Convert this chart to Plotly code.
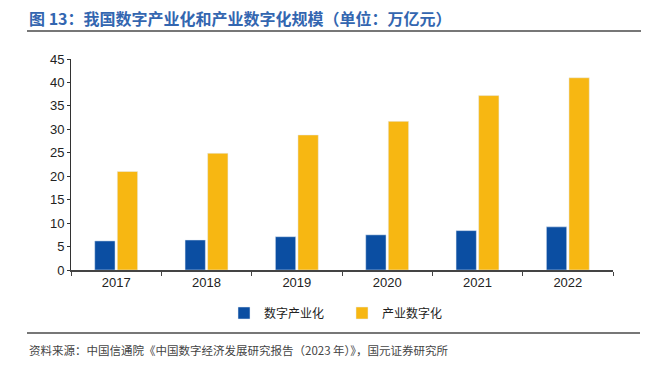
import plotly.graph_objects as go

years = ["2017", "2018", "2019", "2020", "2021", "2022"]
digital_industry = [6.2, 6.4, 7.1, 7.5, 8.4, 9.2]
industry_digital = [21.0, 24.9, 28.8, 31.7, 37.2, 41.0]
series_names = ["数字产业化", "产业数字化"]
y_ticks = [0, 5, 10, 15, 20, 25, 30, 35, 40, 45]

BLUE = "#0B4EA2"
YELLOW = "#F7B712"
CJK = "Noto Sans CJK SC"

fig = go.Figure()
fig.add_bar(x=years, y=digital_industry, name=series_names[0], marker_color=BLUE)
fig.add_bar(x=years, y=industry_digital, name=series_names[1], marker_color=YELLOW)

PW, PH = 542, 211
fig.update_layout(
    width=646, height=371,
    margin=dict(l=71, r=33, t=59, b=101),
    plot_bgcolor="white", paper_bgcolor="white",
    barmode="group", bargap=0.5, bargroupgap=0.1,
    font=dict(family="Liberation Sans, Arial", size=13, color="#222"),
    showlegend=True,
    legend=dict(orientation="h", x=0.5, xanchor="center", y=-43/PH, yanchor="middle",
                font=dict(family=CJK, size=12, color="#222"),
                itemwidth=30, traceorder="normal",
                entrywidth=73),
    xaxis=dict(showline=True, linecolor="#444", linewidth=1.5, ticks="outside",
               tickson="boundaries", ticklen=4, tickcolor="#444",
               tickfont=dict(size=13, color="#222")),
    yaxis=dict(range=[0, 45], tickvals=y_ticks, showline=True, linecolor="#333",
               linewidth=1, ticks="outside", ticklen=3, tickcolor="#333",
               showgrid=False, zeroline=False,
               tickfont=dict(size=13, color="#222")),
    shapes=[
        dict(type="line", xref="paper", yref="paper", x0=-44/PW, x1=570/PW,
             y0=1 + 28/PH, y1=1 + 28/PH, line=dict(color="#777", width=2)),
        dict(type="line", xref="paper", yref="paper", x0=-44/PW, x1=569/PW,
             y0=-63/PH, y1=-63/PH, line=dict(color="#777", width=2)),
    ],
    annotations=[
        dict(text="<b>图 13：我国数字产业化和产业数字化规模（单位：万亿元）</b>",
             xref="paper", yref="paper", x=-44/PW, y=1 + 41/PH,
             xanchor="left", yanchor="middle", showarrow=False,
             font=dict(family=CJK, size=16, color="#3366B0")),
        dict(text="资料来源：中国信通院《中国数字经济发展研究报告（2023 年）》，国元证券研究所",
             xref="paper", yref="paper", x=-44/PW, y=-80/PH,
             xanchor="left", yanchor="middle", showarrow=False,
             font=dict(family=CJK, size=11.5, color="#444")),
    ],
)

fig.write_html("out.html",
               config={"displayModeBar": False},
               post_script="document.body.style.margin='0';document.body.style.overflow='hidden';")
